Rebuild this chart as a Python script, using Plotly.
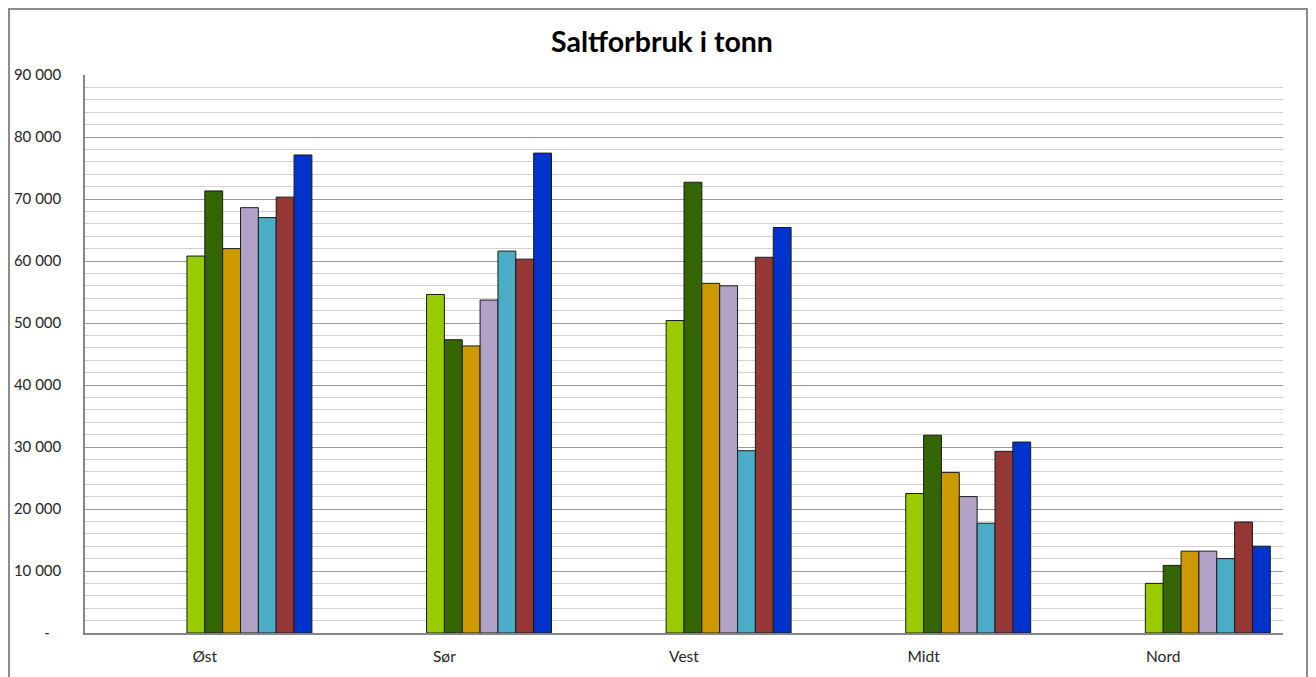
import plotly.graph_objects as go

categories = ["Øst", "Sør", "Vest", "Midt", "Nord"]
series_names = ["Serie 1", "Serie 2", "Serie 3", "Serie 4", "Serie 5", "Serie 6", "Serie 7"]
s1 = [60800, 54600, 50400, 22500, 8000]
s2 = [71300, 47300, 72700, 31900, 10900]
s3 = [62000, 46300, 56400, 25900, 13200]
s4 = [68600, 53700, 56000, 22000, 13200]
s5 = [67000, 61600, 29400, 17700, 12000]
s6 = [70300, 60300, 60600, 29300, 17900]
s7 = [77100, 77400, 65400, 30800, 14000]
series_values = [s1, s2, s3, s4, s5, s6, s7]
colors = ["#99CC00", "#336600", "#CC9900", "#B3A2C7", "#4BACC6", "#953735", "#0033CC"]

tick_values = [0, 10000, 20000, 30000, 40000, 50000, 60000, 70000, 80000, 90000]
tick_labels = ["-\u00a0\u00a0\u00a0", "10 000", "20 000", "30 000", "40 000", "50 000",
               "60 000", "70 000", "80 000", "90 000"]

FONT = "Lato, 'Open Sans', sans-serif"
bar_w = 0.0745

W, H = 1308, 669
L, R, T, B = 77, 33, 67, 44
pw, ph = W - L - R, H - T - B

fig = go.Figure()
for i, (name, vals, col) in enumerate(zip(series_names, series_values, colors)):
    fig.add_trace(go.Bar(
        x=categories, y=vals, name=name,
        marker=dict(color=col, line=dict(color="#1a1a1a", width=1)),
        width=bar_w, offset=-bar_w + i * bar_w,
        showlegend=False,
    ))

fig.update_layout(
    width=W, height=H,
    margin=dict(l=L, r=R, t=T, b=B, autoexpand=False),
    paper_bgcolor="white", plot_bgcolor="white",
    barmode="overlay",
    title=dict(text="<b>Saltforbruk i tonn</b>", x=0.5, xanchor="center",
               y=1 - 34 / H, yanchor="middle",
               font=dict(family=FONT, size=28.5, color="black")),
    font=dict(family=FONT, size=15, color="#262626"),
)
fig.update_xaxes(
    type="category", automargin=False,
    showline=True, linecolor="#868686", linewidth=1.5,
    showgrid=False, ticks="", ticklabelstandoff=9,
    tickfont=dict(family=FONT, size=15.5, color="#262626"),
)
fig.update_yaxes(
    range=[0, 90000], automargin=False,
    tickvals=tick_values, ticktext=tick_labels,
    showline=True, linecolor="#868686", linewidth=1.5,
    showgrid=True, gridcolor="#9a9a9a", gridwidth=1.2,
    minor=dict(dtick=2000, showgrid=True, gridcolor="#d2d2d2", gridwidth=1.2),
    zeroline=False, ticks="", ticklabelstandoff=19,
    tickfont=dict(family=FONT, size=15, color="#262626"),
)

# outer chart frame
fig.add_shape(type="rect", xref="paper", yref="paper",
              x0=(1 - L) / pw, x1=(W - 9 - L) / pw,
              y0=-0.2, y1=(H - B - 1) / ph,
              line=dict(color="#8c8c8c", width=2), fillcolor="rgba(0,0,0,0)", layer="below")

fig.write_html("out.html")
